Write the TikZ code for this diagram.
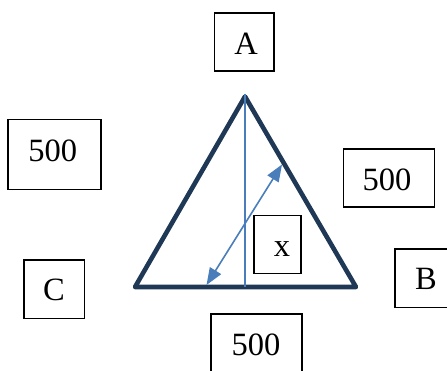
\documentclass[tikz,border=0pt]{standalone}
\usepackage{fontspec}
\setmainfont{Liberation Serif}
\usetikzlibrary{arrows.meta}
\definecolor{navy}{RGB}{31,56,86}
\definecolor{lblue}{RGB}{74,126,187}
\begin{document}
\begin{tikzpicture}[x=1pt,y=-1pt,
  box/.style={draw=black,line width=1.5pt,minimum width=#1,inner sep=0pt},
  lbl/.style={anchor=base,inner sep=0pt,font=\fontsize{32.5}{38}\selectfont}]
\useasboundingbox (0,0) rectangle (447,370);
% boxes
\node[box=59.5pt,minimum height=58pt] (boxA) at (244,42) {};
\node[box=93pt,minimum height=70pt] (boxL) at (54.5,154.5) {};
\node[box=91pt,minimum height=58pt] (boxR) at (389,178) {};
\node[box=60.5pt,minimum height=58.5pt] (boxC) at (54,289) {};
\node[box=60pt,minimum height=58.5pt] (boxB) at (425,278) {};
\node[box=91pt,minimum height=58pt] (boxD) at (256.7,343) {};
\node[box=47pt,minimum height=58pt] (boxX) at (277.5,244.5) {};
% labels
\node[lbl] (tA) at (246,54.3) {A};
\node[lbl] (tL) at (52.7,161.7) {500};
\node[lbl] (tR) at (387,190) {500};
\node[lbl] (tC) at (54,300.7) {C};
\node[lbl] (tB) at (426,289) {B};
\node[lbl] (tD) at (256,355.7) {500};
\node[lbl] (tX) at (282,256.7) {x};
% triangle
\coordinate (P) at (245,96.5);
\coordinate (Q) at (135,287);
\coordinate (R) at (356,287);
\coordinate (H) at (245,287);
\draw[navy,line width=4.6pt,line join=round] (P) -- (R) -- (Q) -- cycle;
\draw[lblue,line width=1.7pt] (245,93.5) -- (H);
\coordinate (U) at (282,164.5);
\coordinate (V) at (206.5,285);
\draw[lblue,line width=1.6pt,{Triangle[length=17pt,width=13pt]}-{Triangle[length=17pt,width=13pt]}] (V) -- (U);
\end{tikzpicture}
\end{document}
